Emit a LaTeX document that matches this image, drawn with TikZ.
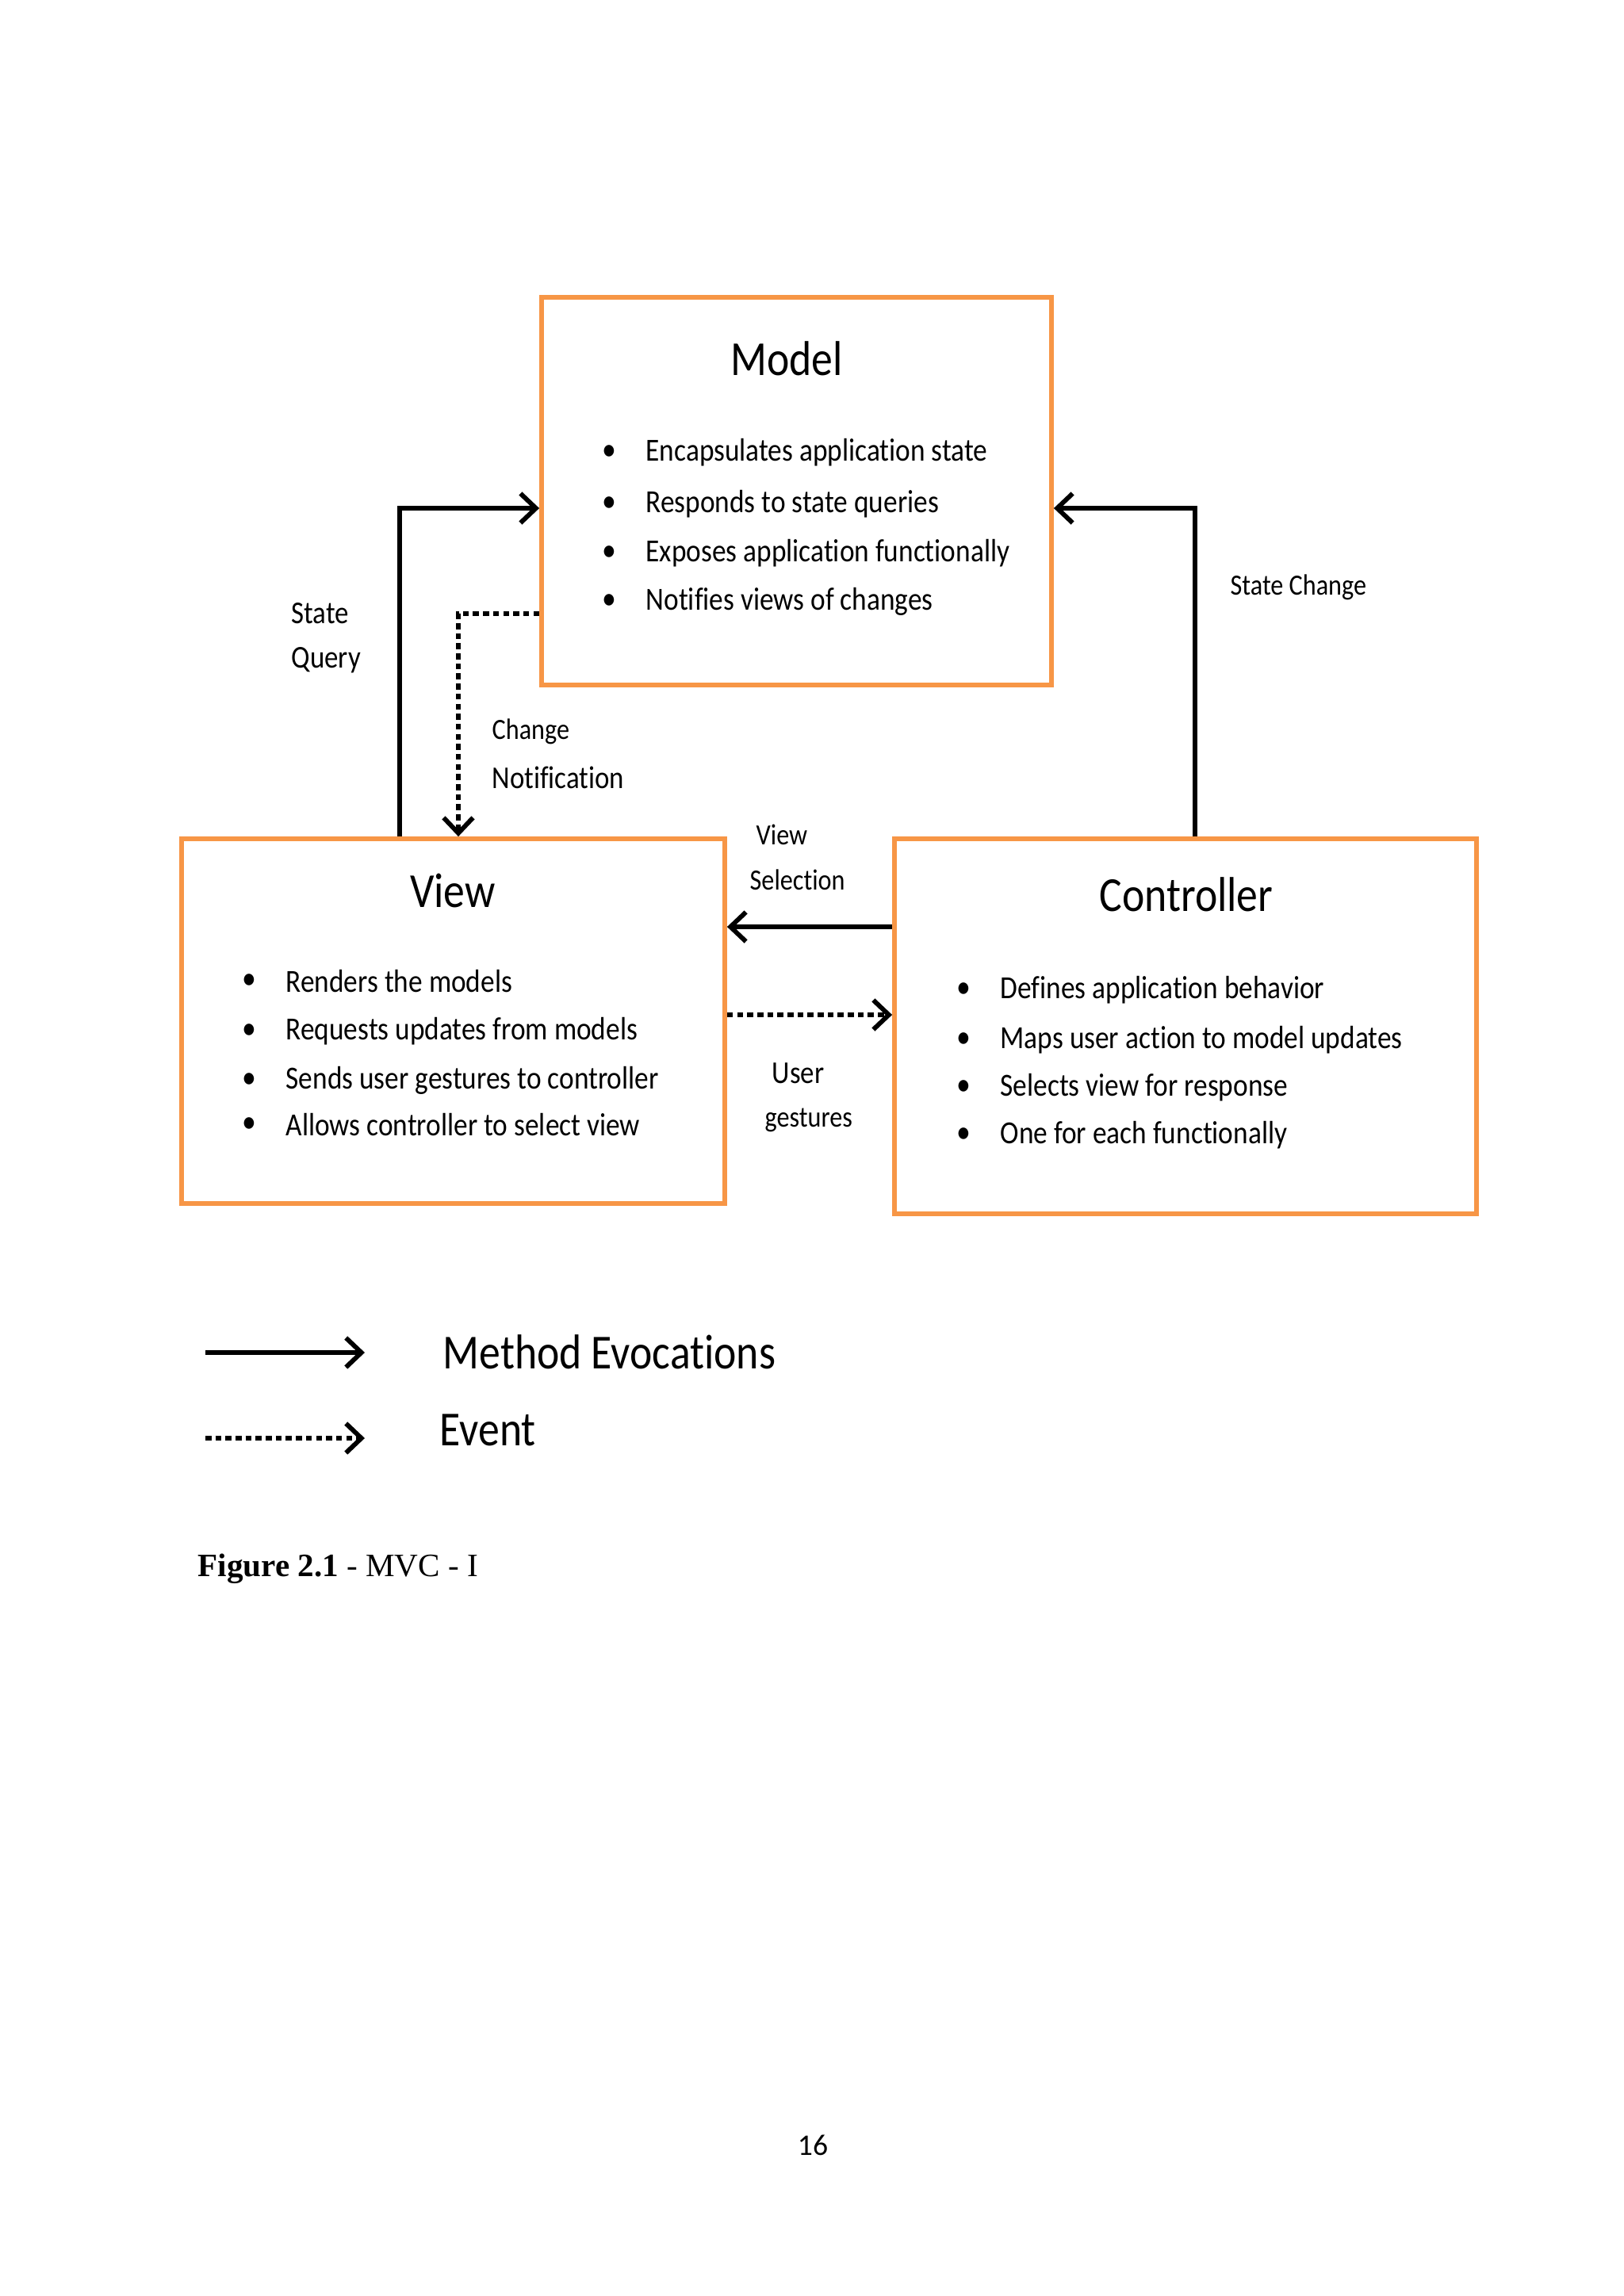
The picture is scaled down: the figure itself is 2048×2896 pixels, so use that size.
\documentclass[tikz,border=0pt]{standalone}
\usepackage{fontspec}
\setmainfont{Carlito}
\newfontfamily\calib[FakeStretch=0.87,Ligatures=NoCommon]{Carlito}
\newfontfamily\timesf{Liberation Serif}
\usetikzlibrary{arrows.meta}
\definecolor{boxorange}{HTML}{F79646}
\begin{document}
\begin{tikzpicture}[x=0.10254mm,y=-0.10254mm,
  mvcbox/.style={draw=boxorange, line width=1.7pt, inner sep=0pt},
  boxtitle/.style={font=\calib\fontsize{18}{21}\selectfont, inner sep=0pt},
  bul/.style={font=\calib\fontsize{12}{14}\selectfont, inner sep=0pt},
  itemtxt/.style={font=\calib\fontsize{11.85}{14}\selectfont, anchor=west, inner sep=0pt},
  lbl/.style={font=\calib\fontsize{10.8}{13}\selectfont, anchor=west, inner sep=0pt},
  biglbl/.style={lbl, font=\calib\fontsize{11.7}{14}\selectfont},
  legtxt/.style={font=\calib\fontsize{18}{21}\selectfont, anchor=west, inner sep=0pt},
  method/.style={line width=1.7pt, -{Straight Barb[length=2mm,width=3.8mm]}},
  event/.style={method, dash pattern=on 2.2pt off 1.5pt}]
\useasboundingbox (0,0) rectangle (2048,2896);

% boxes
\node[mvcbox, minimum width=65.93mm, minimum height=50.14mm] (Model) at (1004.5,619.5) {};
\node[mvcbox, minimum width=70.24mm, minimum height=47.17mm] (View) at (571.5,1288) {};
\node[mvcbox, minimum width=75.26mm, minimum height=48.50mm] (Controller) at (1495,1294.5) {};

% titles
\node[boxtitle] (mt) at (992,452) {Model};
\node[boxtitle] (vt) at (571,1123) {View};
\node[boxtitle] (ct) at (1496,1128) {Controller};

% model bullets
\node[bul] (mb1) at (768,571) {•}; \node[itemtxt] (mi1) at (814,571) {Encapsulates application state};
\node[bul] (mb2) at (768,636) {•}; \node[itemtxt] (mi2) at (814,636) {Responds to state queries};
\node[bul] (mb3) at (768,698) {•}; \node[itemtxt] (mi3) at (814,698) {Exposes application functionally};
\node[bul] (mb4) at (768,759) {•}; \node[itemtxt] (mi4) at (814,759) {Notifies views of changes};

% view bullets
\node[bul] (vb1) at (314,1238) {•}; \node[itemtxt] (vi1) at (360,1238) {Renders the models};
\node[bul] (vb2) at (314,1301) {•}; \node[itemtxt] (vi2) at (360,1301) {Requests updates from models};
\node[bul] (vb3) at (314,1363) {•}; \node[itemtxt] (vi3) at (360,1363) {Sends user gestures to controller};
\node[bul] (vb4) at (314,1419) {•}; \node[itemtxt] (vi4) at (360,1419) {Allows controller to select view};

% controller bullets
\node[bul] (cb1) at (1215,1249) {•}; \node[itemtxt] (ci1) at (1261,1249) {Defines application behavior};
\node[bul] (cb2) at (1215,1312) {•}; \node[itemtxt] (ci2) at (1261,1312) {Maps user action to model updates};
\node[bul] (cb3) at (1215,1372) {•}; \node[itemtxt] (ci3) at (1261,1372) {Selects view for response};
\node[bul] (cb4) at (1215,1432) {•}; \node[itemtxt] (ci4) at (1261,1432) {One for each functionally};

% connector coordinates
\coordinate (sq) at (504,641);
\coordinate (cn) at (578,774);
\coordinate (sc) at (1507,641);
\coordinate (vs) at (0,1169);
\coordinate (ug) at (0,1280);

\draw[method] (sq |- View.north) |- (Model.west |- sq);
\draw[event] (Model.west |- cn) -| (cn |- View.north);
\draw[method] (sc |- Controller.north) |- (Model.east |- sc);
\draw[method] (Controller.west |- vs) -- (View.east |- vs);
\draw[event] (View.east |- ug) -- (Controller.west |- ug);

% connector labels
\node[biglbl] (l1) at (367,774) {State};
\node[biglbl] (l2) at (367,833) {Query};
\node[lbl] (l3) at (620,923) {Change};
\node[biglbl] (l4) at (620,981) {Notification};
\node[lbl] (l5) at (1551,741) {State Change};
\node[lbl] (l6) at (953,1053) {View};
\node[lbl] (l7) at (945,1110) {Selection};
\node[biglbl] (l8) at (973,1354) {User};
\node[lbl] (l9) at (964,1413) {gestures};

% legend
\coordinate (la) at (259,1706); \coordinate (lb) at (460,1706);
\coordinate (lc) at (259,1814); \coordinate (ld) at (460,1814);
\draw[method] (la) -- (lb);
\draw[event] (lc) -- (ld);
\node[legtxt] (lg1) at (558,1705) {Method Evocations};
\node[legtxt] (lg2) at (554,1804) {Event};

% caption and page number
\node[anchor=west, inner sep=0pt, font=\timesf\fontsize{12}{14}\selectfont] (cap) at (249,1979) {\textbf{Figure 2.1} - MVC - I};
\node[inner sep=0pt, font=\fontsize{11}{13}\selectfont] (pg) at (1025,2706) {16};
\end{tikzpicture}
\end{document}
